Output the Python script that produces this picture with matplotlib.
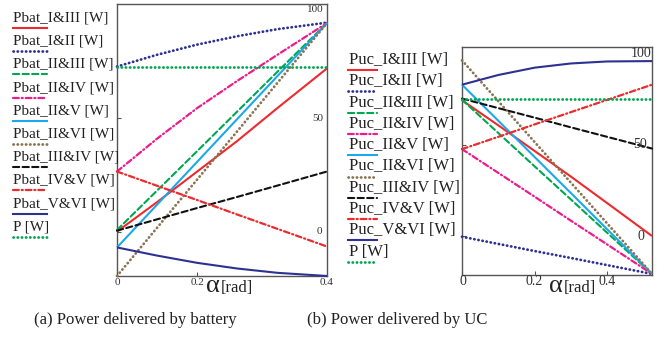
import numpy as np
import matplotlib.pyplot as plt

plt.rcParams['font.family'] = ['Liberation Serif', 'DejaVu Serif']

# alpha sample points (rad), axis ends at pi/6
alpha = [0, 0.1, 0.2, 0.3, 0.4, 0.5236]

# battery power curves [W]
bat_I_III = [0, 13, 26.5, 40, 54.5, 72]
bat_I_II = [72.8, 78, 82.5, 86.2, 89.3, 92.2]
bat_II_III = [0.7, 18.1, 35.5, 53, 70.5, 92]
bat_II_IV = [26.5, 41, 54.5, 66.5, 78, 92]
bat_II_V = [-7, 11.9, 30.8, 49.7, 68.6, 92]
bat_II_VI = [-19.6, 1.7, 23, 44.3, 65.6, 92]
bat_III_IV = [0.4, 5.4, 10.4, 15.3, 20.3, 26.5]
bat_IV_V = [26.5, 20.2, 13.9, 7.5, 1.2, -6.6]
bat_V_VI = [-7, -10.6, -13.8, -16.3, -18.2, -19.6]
bat_P = [72.8] * 6

# ultracapacitor power curves [W]
uc_I_III = [74.2, 60.5, 46.5, 32.5, 18, 0]
uc_I_II = [-0.4, -4.3, -8.2, -12.0, -15.9, -20.7]
uc_II_III = [74.5, 56.3, 38.1, 20, 1.8, -20.7]
uc_II_IV = [47.5, 34.5, 21.5, 8.4, -4.6, -20.7]
uc_II_V = [82.7, 63, 43.2, 23.5, 3.7, -20.7]
uc_II_VI = [96, 73.7, 51.4, 29.2, 6.9, -20.7]
uc_III_IV = [75.1, 69.9, 64.7, 59.4, 54.2, 47.8]
uc_IV_V = [47.5, 54.2, 61, 67.7, 74.4, 82.7]
uc_V_VI = [82.7, 88, 92, 94.3, 95.4, 95.6]
uc_P = [75.1] * 6

names = ['I&III', 'I&II', 'II&III', 'II&IV', 'II&V', 'II&VI',
         'III&IV', 'IV&V', 'V&VI']

red, navy, green = '#ed2a2e', '#2e3192', '#00a651'
magenta, cyan, brown = '#ec1c8c', '#1ea8ec', '#8b7352'
dot = (0, (0.1, 1.4))
dash = (0, (3, 1.6))
dashdot = (0, (2.6, 1.3, 0.5, 1.3))
styles = [
    dict(color=red, ls='-', lw=1.5),
    dict(color=navy, ls=dot, lw=2.0),
    dict(color=green, ls=dash, lw=1.5),
    dict(color=magenta, ls=dashdot, lw=1.6),
    dict(color=cyan, ls='-', lw=1.5),
    dict(color=brown, ls=dot, lw=2.0),
    dict(color='#111111', ls=dash, lw=1.5),
    dict(color=red, ls=dashdot, lw=1.6),
    dict(color=navy, ls='-', lw=1.5),
    dict(color=green, ls=dot, lw=2.0),
]

bat = [bat_I_III, bat_I_II, bat_II_III, bat_II_IV, bat_II_V, bat_II_VI,
       bat_III_IV, bat_IV_V, bat_V_VI, bat_P]
uc = [uc_I_III, uc_I_II, uc_II_III, uc_II_IV, uc_II_V, uc_II_VI,
      uc_III_IV, uc_IV_V, uc_V_VI, uc_P]

W, H = 668, 337
fig = plt.figure(figsize=(W / 100, H / 100), dpi=100)

def px_axes(x0, y0, x1, y1):
    return fig.add_axes([x0 / W, 1 - y1 / H, (x1 - x0) / W, (y1 - y0) / H])

ax1 = px_axes(117, 4, 327, 276)
ax2 = px_axes(462, 47, 652, 275)

for ax, data, ylim in [(ax1, bat, (-19.6, 100.4)), (ax2, uc, (-21.3, 103.3))]:
    for y, st in zip(data, styles):
        ax.plot(alpha, y, dash_capstyle='round', solid_capstyle='butt',
                clip_on=False, zorder=3, **st)
    ax.set_xlim(0, alpha[-1])
    ax.set_ylim(*ylim)
    for s in ax.spines.values():
        s.set_color('#555555')
        s.set_linewidth(1.0)
    ax.tick_params(direction='in', length=3, color='#555555',
                   labelbottom=False, labelleft=False)
    ax.set_yticks([0, 50])

ax1.set_xticks([0, 0.2])
ax2.set_xticks([0, 0.2, 0.4])

# tick labels as drawn in the reference
tk = dict(color='#333333', ha='center', va='center')
ax1.text(0.002, -0.025, '0', transform=ax1.transAxes, fontsize=8, **tk)
ax1.text(0.2, -0.025, '0.2', transform=ax1.get_xaxis_transform(), fontsize=8, **tk)
ax1.text(1.0, -0.025, '0.4', transform=ax1.transAxes, fontsize=8, **tk)
ax1.text(0.515, 100, '100', fontsize=8, color='#333333', ha='right', va='top')
ax1.text(0.515, 50, '50', fontsize=8, color='#333333', ha='right', va='center')
ax1.text(0.512, 0, '0', fontsize=8, color='#333333', ha='right', va='center')

ax2.text(0.005, -0.03, '0', transform=ax2.transAxes, fontsize=10, **tk)
ax2.text(0.2, -0.03, '0.2', transform=ax2.get_xaxis_transform(), fontsize=10, **tk)
ax2.text(0.4, -0.03, '0.4', transform=ax2.get_xaxis_transform(), fontsize=10, **tk)
ax2.text(0.523, 100, '100', fontsize=10, color='#333333', ha='right', va='center')
ax2.text(0.51, 50, '50', fontsize=10, color='#333333', ha='right', va='center')
ax2.text(0.503, 0, '0', fontsize=10, color='#333333', ha='right', va='center')

# overlay in pixel coordinates for legends, axis labels and captions
lay = fig.add_axes([0, 0, 1, 1], zorder=5)
lay.set_xlim(0, W)
lay.set_ylim(H, 0)
lay.axis('off')
lay.patch.set_alpha(0)

for i, st in enumerate(styles):
    lab = ('Pbat_' + names[i] if i < 9 else 'P') + ' [W]'
    y = 18 + 23.2 * i
    lay.text(13, y, lab, fontsize=11, ha='left', va='center', color='#222222')
    lay.plot([13, 47], [y + 10, y + 10], dash_capstyle='round', **st)

for i, st in enumerate(styles):
    lab = ('Puc_' + names[i] if i < 9 else 'P') + ' [W]'
    y = 60 + 21.3 * i
    lay.text(349, y, lab, fontsize=12, ha='left', va='center', color='#222222')
    lay.plot([348, 377], [y + 10, y + 10], dash_capstyle='round', **st)

lay.text(220, 292, 'α', fontsize=19, ha='right', va='baseline', color='#222222')
lay.text(221, 292, '[rad]', fontsize=12, ha='left', va='baseline', color='#222222')
lay.text(563, 292, 'α', fontsize=19, ha='right', va='baseline', color='#222222')
lay.text(564, 292, '[rad]', fontsize=12, ha='left', va='baseline', color='#222222')

lay.text(135, 320, '(a) Power delivered by battery', fontsize=12,
         ha='center', va='center', color='#222222')
lay.text(397, 320, '(b) Power delivered by UC', fontsize=12,
         ha='center', va='center', color='#222222')

fig.savefig('out.png', dpi=100)
